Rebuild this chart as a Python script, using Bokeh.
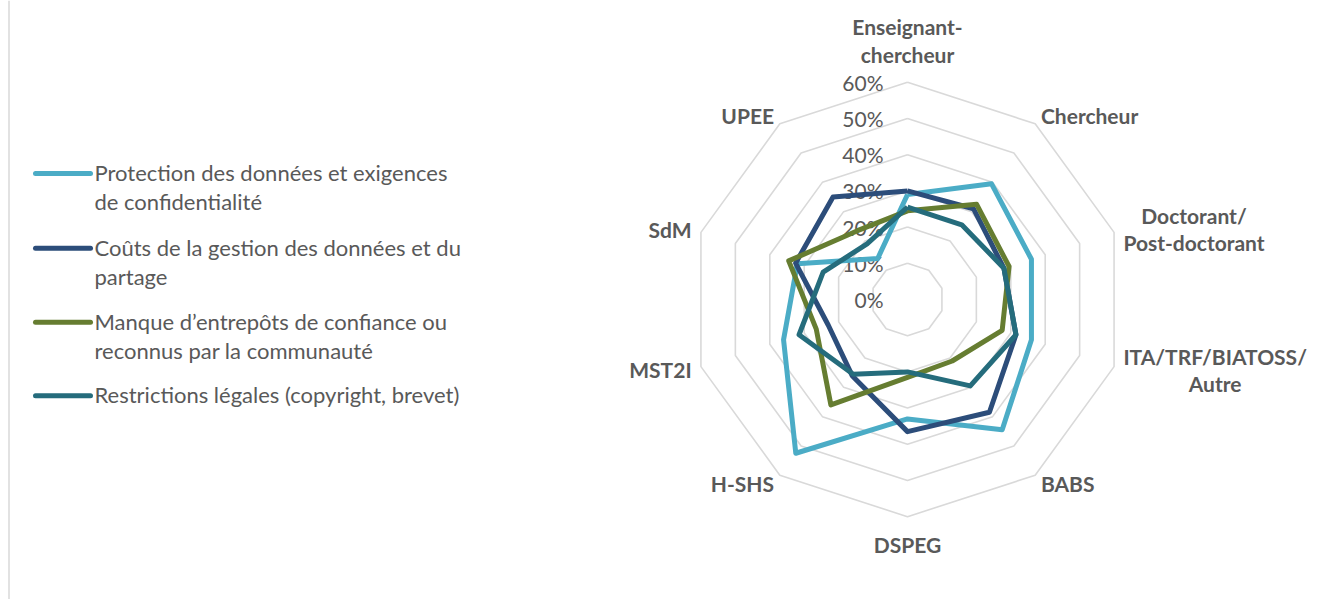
import math
from bokeh.plotting import figure
from bokeh.models import Range1d, ColumnDataSource
from bokeh.core.properties import value
from bokeh.embed import file_html
from bokeh.resources import INLINE

# ---------------- data ----------------
categories = ["Enseignant-\nchercheur", "Chercheur", "Doctorant/\nPost-doctorant",
              "ITA/TRF/BIATOSS/\nAutre", "BABS", "DSPEG", "H-SHS", "MST2I", "SdM", "UPEE"]
series_names = ["Protection des données et exigences\nde confidentialité",
                "Coûts de la gestion des données et du\npartage",
                "Manque d\u2019entrepôts de confiance ou\nreconnus par la communauté",
                "Restrictions légales (copyright, brevet)"]
protection = [29, 39.5, 36, 36, 44.5, 33, 52.5, 36, 32, 14]
couts = [30, 31, 28, 31.5, 38.5, 36.5, 26, 23, 32.5, 35]
manque = [24.5, 32.5, 29.5, 27.5, 21, 21.5, 36, 26.5, 34.5, 23.5]
restrictions = [25.5, 25.5, 28, 31.5, 29.5, 20, 25.5, 31.5, 24.5, 19]
ticks = [0, 10, 20, 30, 40, 50, 60]
tick_labels = ["0%", "10%", "20%", "30%", "40%", "50%", "60%"]

# ---------------- style ----------------
colors = ["#4BACC6", "#2C4D7A", "#667D31", "#256C7C"]
W, H = 1312, 599
CX, CY = 907, 299          # centre of the radar in figure pixels (from top-left)
S = 3.62                   # pixels per percent
FONT = "Lato"
TXT = "#595959"

p = figure(width=W, height=H, output_backend="svg", toolbar_location=None,
           x_axis_type=None, y_axis_type=None, min_border=0,
           x_range=Range1d(-CX / S, (W - CX) / S),
           y_range=Range1d(-(H - CY) / S, CY / S))
p.grid.visible = False
p.outline_line_color = None
p.background_fill_color = "white"
p.border_fill_color = "white"

def px(xp):
    return (xp - CX) / S

def py(yp):
    return (CY - yp) / S

n = len(categories)
angles = [2 * math.pi * k / n for k in range(n)]

def polar(vals):
    xs = [v * math.sin(a) for v, a in zip(vals, angles)]
    ys = [v * math.cos(a) for v, a in zip(vals, angles)]
    return xs + xs[:1], ys + ys[:1]

# left border line of the chart area
p.segment(x0=[px(8.5)], y0=[py(0)], x1=[px(8.5)], y1=[py(H)], line_color="#D9D9D9", line_width=1.5)

# grid rings
for t in ticks[1:]:
    xs, ys = polar([t] * n)
    p.line(xs, ys, line_color="#D9D9D9", line_width=1.6)

# tick labels
p.text(x=[px(CX - 24)] * len(ticks), y=[t for t in ticks], text=tick_labels,
       text_font=value(FONT), text_font_size="21px", text_color=TXT,
       text_align="right", text_baseline="middle")

# series
for vals, c in zip([protection, couts, manque, restrictions], colors):
    xs, ys = polar(vals)
    p.line(xs, ys, line_color=c, line_width=5, line_join="round")

# category labels
R_SIDE = 227 / S
lx, ly, anchors = [], [], []
for k, a in enumerate(angles):
    deg = 360 * k / n
    if deg == 0:
        r, anc = 233 / S, "bottom_center"
    elif deg == 180:
        r, anc = 232 / S, "top_center"
    elif deg < 180:
        r, anc = R_SIDE, "center_left"
    else:
        r, anc = R_SIDE, "center_right"
    lx.append(r * math.sin(a))
    ly.append(r * math.cos(a))
    anchors.append(anc)
src = ColumnDataSource(dict(x=lx, y=ly, text=categories, anchor=anchors))
p.text(x="x", y="y", text="text", anchor="anchor", source=src,
       text_font=value(FONT), text_font_size="21px", text_font_style="bold",
       text_color=TXT, text_align="center", text_line_height=1.09)

# legend (manual)
first_line_y = [173, 247.7, 321.7, 395.3]
for name, c, yl in zip(series_names, colors, first_line_y):
    p.segment(x0=[px(35)], y0=[py(yl)], x1=[px(90)], y1=[py(yl)],
              line_color=c, line_width=5, line_cap="round")
    p.text(x=[px(94)], y=[py(yl - 14.5)], text=[name], anchor="top_left",
           text_font=value(FONT), text_font_size="22px", text_color=TXT,
           text_align="left", text_line_height=1.07)

open("out.html", "w").write(file_html(p, INLINE))
